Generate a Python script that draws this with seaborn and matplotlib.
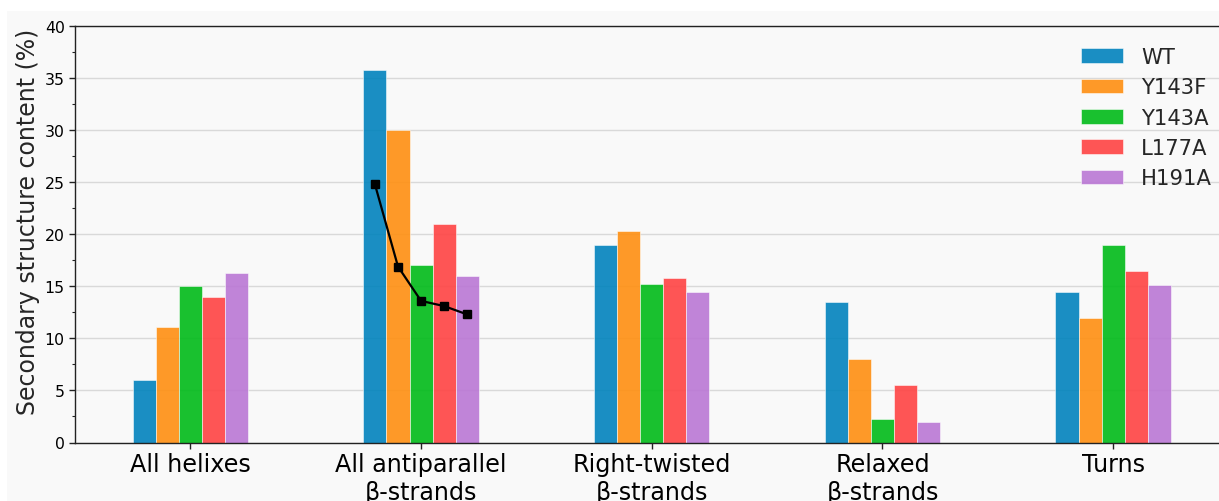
import matplotlib
matplotlib.use("Agg")
import matplotlib.pyplot as plt
from matplotlib.patches import Rectangle
from matplotlib.ticker import MultipleLocator
import numpy as np
import pandas as pd
import seaborn as sns

# Secondary structure categories and variants
categories = ["All helixes", "All antiparallel\nβ-strands", "Right-twisted\nβ-strands",
              "Relaxed\nβ-strands", "Turns"]
variants = ["WT", "Y143F", "Y143A", "L177A", "H191A"]

# Content (%) per variant, in category order
wt    = [6.0, 35.8, 19.0, 13.5, 14.5]
y143f = [11.1, 30.0, 20.3, 8.0, 12.0]
y143a = [15.0, 17.0, 15.2, 2.3, 19.0]
l177a = [14.0, 21.0, 15.8, 5.5, 16.5]
h191a = [16.3, 16.0, 14.5, 2.0, 15.1]

# Antiparallel β-strand trend overlaid on the second group
trend = [24.8, 16.9, 13.6, 13.1, 12.3]

colors = ["#0183bd", "#ff8f11", "#00bb19", "#ff4343", "#ba77d5"]

df = pd.DataFrame({
    "category": np.repeat(categories, len(variants)),
    "variant": variants * len(categories),
    "value": np.array([wt, y143f, y143a, l177a, h191a]).T.ravel(),
})

sns.set_style("ticks")
plt.rcParams["font.family"] = ["DejaVu Sans"]

bg = "#f9f9f9"
fig = plt.figure(figsize=(12.19, 5.02), dpi=100, facecolor="white")
fig.add_artist(Rectangle((7 / 1219, 0), 1, 1 - 12 / 502, transform=fig.transFigure,
                         facecolor=bg, edgecolor="none", zorder=-1))
ax = fig.add_axes([75 / 1219, 58.5 / 502, (1228.5 - 75) / 1219, (475 - 58.5) / 502])
ax.set_facecolor(bg)

sns.barplot(data=df, x="category", y="value", hue="variant", order=categories,
            hue_order=variants, palette=colors, saturation=1, width=0.5, alpha=0.9,
            edgecolor="white", linewidth=0.4, ax=ax, zorder=2)

# Trend line through the centres of the antiparallel bars
xs = [c[1].get_x() + c[1].get_width() / 2 for c in ax.containers]
ax.plot(xs, trend, color="black", lw=1.6, marker="s", markersize=6, zorder=3)

ax.set_xlim(-0.5, 4.5)
ax.set_ylim(0, 40)
ax.yaxis.set_major_locator(MultipleLocator(5))
ax.yaxis.set_minor_locator(MultipleLocator(2.5))
ax.grid(axis="y", color="#d9d9d9", lw=1.0, zorder=0)
ax.set_axisbelow(True)

for side in ["top", "left", "bottom", "right"]:
    ax.spines[side].set_color("#222222")
    ax.spines[side].set_linewidth(1.0)

ax.tick_params(axis="y", which="major", labelsize=11.3, length=4, width=1, colors="#222222")
ax.tick_params(axis="y", which="minor", length=2.5, width=0.8, colors="#222222")
ax.tick_params(axis="x", labelsize=17.2, length=4, width=1, colors="#222222", pad=3)
for lbl in ax.get_xticklabels() + ax.get_yticklabels():
    lbl.set_color("black")
ax.set_xlabel("")
ax.set_ylabel("Secondary structure content (%)", fontsize=17.0)
ax.yaxis.set_label_coords(-35 / 1153.5, 0.532)

ax.legend(loc="upper left", bbox_to_anchor=((1062 - 75) / (1228.5 - 75), 0.995),
          frameon=False, fontsize=15.2, labelspacing=0.49, handlelength=2.0,
          handleheight=0.7, handletextpad=0.85)

fig.savefig("out.png", dpi=100, facecolor="white")
